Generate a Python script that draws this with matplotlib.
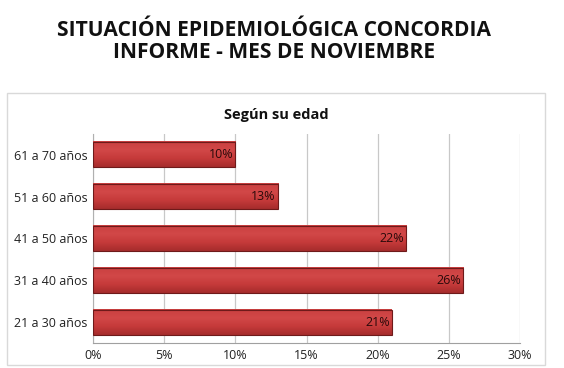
import matplotlib
matplotlib.use("Agg")
import matplotlib.pyplot as plt
import numpy as np
from matplotlib.patches import Rectangle
from matplotlib.colors import LinearSegmentedColormap

categories = ["21 a 30 años", "31 a 40 años", "41 a 50 años", "51 a 60 años", "61 a 70 años"]
values = [21, 26, 22, 13, 10]
xticks = [0, 5, 10, 15, 20, 25, 30]
title_line1 = "SITUACIÓN EPIDEMIOLÓGICA CONCORDIA"
title_line2 = "INFORME - MES DE NOVIEMBRE"
subtitle = "Según su edad"

W, H = 564, 368
fig = plt.figure(figsize=(W/100, H/100), dpi=100)
fig.patch.set_facecolor("white")

# chart frame
fig.patches.append(Rectangle((7/W, 1 - 365/H), (545-7)/W, (365-93)/H, transform=fig.transFigure,
                             fill=False, edgecolor="#d9d9d9", linewidth=1))

fig.text(274/W, 1 - 30/H, title_line1, ha="center", va="center", fontsize=15.1,
         fontweight="bold", family="Open Sans", color="#111111")
fig.text(274/W, 1 - 52/H, title_line2, ha="center", va="center", fontsize=15.1,
         fontweight="bold", family="Open Sans", color="#111111")
fig.text(276/W, 1 - 115/H, subtitle, ha="center", va="center", fontsize=10.5,
         fontweight="bold", family="Open Sans", color="#111111")

ax = fig.add_axes([93/W, 1 - 343/H, (520-93)/W, (343-134)/H])
y = list(range(len(categories)))
bar_h = 0.6
bars = ax.barh(y, values, height=bar_h, color="none", edgecolor="#6e1a1a", linewidth=0.8, zorder=4)

cmap = LinearSegmentedColormap.from_list("redgrad", ["#a62c2c", "#c53a3a", "#d24848", "#c94040"])
grad = np.linspace(0, 1, 64).reshape(-1, 1)
for b in bars:
    x0, y0 = b.get_x(), b.get_y()
    w, h = b.get_width(), b.get_height()
    ax.imshow(grad, cmap=cmap, aspect="auto", origin="lower",
              extent=(x0, x0 + w, y0, y0 + h), zorder=3, interpolation="bilinear")

for yi, v in zip(y, values):
    ax.text(v - 0.15, yi, f"{v}%", ha="right", va="center", fontsize=9,
            family="Open Sans", color="#2a0a0a", zorder=5)

ax.set_xlim(0, 30)
ax.set_ylim(-0.5, len(categories) - 0.5)
ax.set_xticks(xticks)
ax.set_xticklabels([f"{t}%" for t in xticks], family="Open Sans", fontsize=9, color="#222222")
ax.set_yticks(y)
ax.set_yticklabels(categories, family="Open Sans", fontsize=9, color="#222222")
ax.tick_params(axis="both", length=0, pad=4)
ax.grid(axis="x", color="#c8c8c8", linewidth=0.9, zorder=0)
for s in ["top", "right"]:
    ax.spines[s].set_visible(False)
ax.spines["left"].set_color("#b0b0b0")
ax.spines["bottom"].set_color("#a0a0a0")

fig.savefig("out.png", dpi=100)
